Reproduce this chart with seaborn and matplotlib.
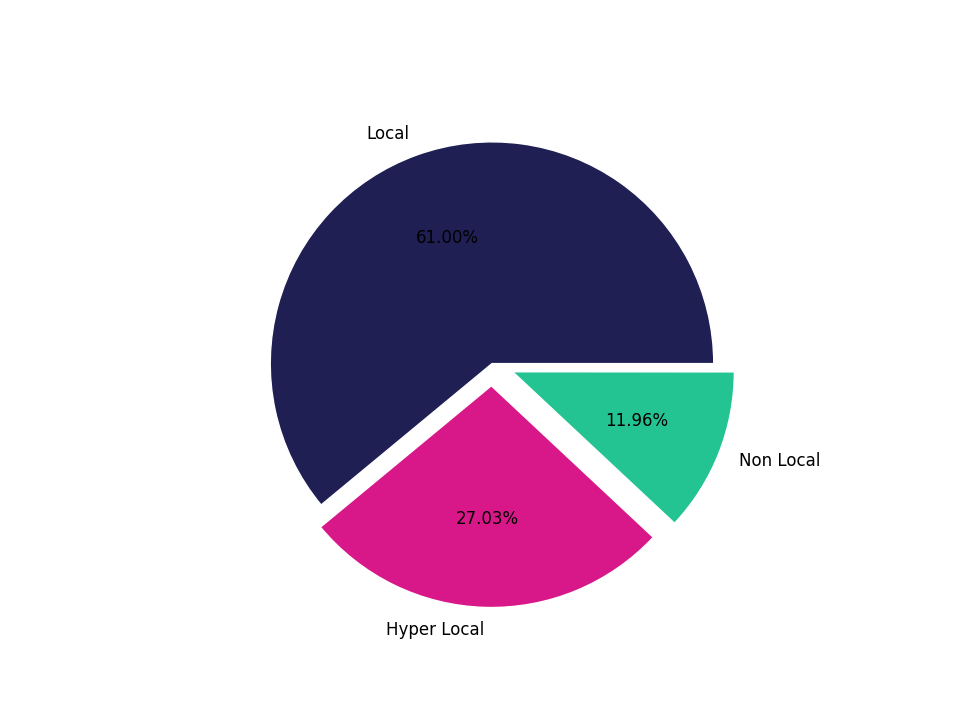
import matplotlib
matplotlib.use("Agg")
import matplotlib.pyplot as plt
import seaborn as sns

sns.set_theme(style="white")
plt.rcParams['font.family'] = ['DejaVu Sans']

labels = ["Local", "Hyper Local", "Non Local"]
shares = [0.6100, 0.2703, 0.1196]
colors = ["#1f1f54", "#d81888", "#23c492"]
explode = [0, 0.1, 0.1]

fig, ax = plt.subplots(figsize=(9.6, 7.2), dpi=100)
ax.pie(shares, labels=labels, colors=colors, explode=explode,
       autopct="%.2f%%", startangle=0, normalize=False,
       textprops={"fontsize": 12, "color": "black"})
plt.savefig("out.png", dpi=100)
